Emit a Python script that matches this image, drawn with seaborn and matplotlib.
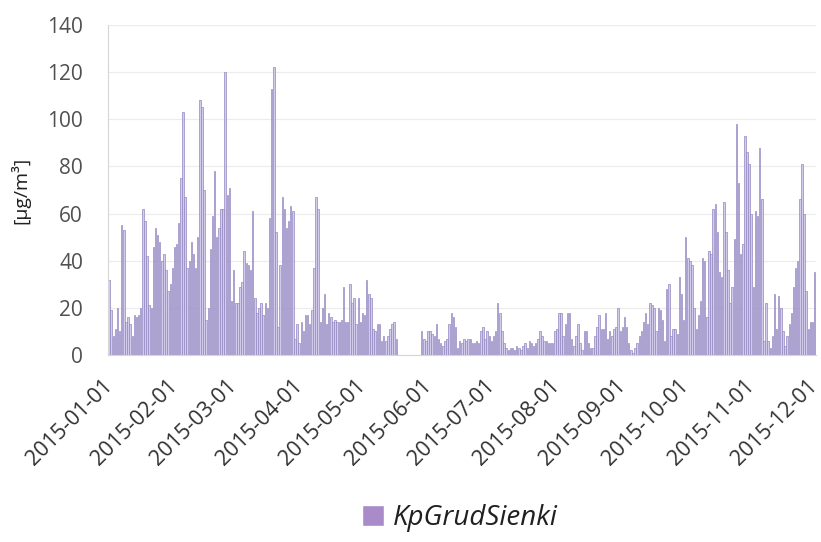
import matplotlib
matplotlib.use("Agg")
import matplotlib.pyplot as plt
import numpy as np
import pandas as pd
import seaborn as sns
from matplotlib.patches import Patch

nan = np.nan

# daily PM values, one list per month
jan = [32, 19, 8, 11, 20, 10, 55, 53, 14, 16, 13, 8, 17, 16, 17, 20, 62, 57, 42, 21,
       20, 46, 54, 51, 48, 40, 43, 36, 27, 30, 37]
feb = [46, 47, 56, 75, 103, 67, 37, 40, 48, 43, 37, 50, 108, 105, 70, 15, 20, 45, 59, 78,
       50, 54, 62, 62, 120, 68, 71, 23]
mar = [36, 22, 22, 29, 31, 44, 39, 38, 36, 61, 24, 18, 20, 22, 17, 22, 20, 58, 113, 122,
       52, 12, 38, 67, 62, 54, 57, 63, 61, 7, 13]
apr = [5, 14, 10, 17, 17, 13, 19, 37, 67, 62, 14, 20, 26, 13, 18, 16, 14, 15, 14, 14,
       15, 29, 14, 14, 30, 22, 24, 13, 24, 14]
may = [18, 17, 32, 26, 24, 11, 10, 13, 13, 6, 8, 6, 8, 11, 13, 14, 7,
       nan, nan, nan, nan, nan, nan, nan, nan, nan, nan, nan, 10, 7, 6]
jun = [10, 10, 9, 8, 13, 7, 5, 4, 6, 7, 13, 18, 16, 12, 3, 6, 5, 7, 6, 7,
       7, 5, 5, 6, 5, 10, 12, 7, 10, 8]
jul = [6, 8, 10, 22, 18, 10, 5, 3, 2, 3, 3, 2, 4, 3, 2, 4, 5, 3, 6, 5,
       4, 5, 7, 10, 8, 6, 6, 5, 5, 5, 10]
aug = [11, 18, 18, 8, 13, 18, 18, 7, 4, 8, 13, 5, 2, 10, 10, 5, 3, 3, 8, 12,
       17, 11, 11, 18, 7, 10, 8, 11, 12, 20, 10]
sep = [12, 16, 12, 5, 2, 1, 3, 5, 8, 10, 14, 18, 13, 22, 21, 20, 10, 20, 19, 15,
       6, 28, 30, 8, 11, 11, 9, 33, 26, 15]
oct_ = [50, 41, 40, 38, 20, 11, 17, 23, 41, 40, 16, 44, 43, 62, 64, 52, 35, 33, 65, 52,
        36, 22, 29, 49, 98, 73, 43, 47, 93, 86, 81]
nov = [60, 29, 61, 59, 88, 66, 6, 22, 6, 3, 8, 26, 11, 25, 20, 10, 4, 8, 13, 18,
       29, 37, 40, 66, 81, 60, 27, 11, 14, 14]
dec = [35]

month_labels = ["2015-01-01", "2015-02-01", "2015-03-01", "2015-04-01", "2015-05-01",
                "2015-06-01", "2015-07-01", "2015-08-01", "2015-09-01", "2015-10-01",
                "2015-11-01", "2015-12-01"]
series_name = "KpGrudSienki"
y_ticks = [0, 20, 40, 60, 80, 100, 120, 140]

values = jan + feb + mar + apr + may + jun + jul + aug + sep + oct_ + nov + dec
dates = pd.date_range("2015-01-01", "2015-12-01", freq="D").strftime("%Y-%m-%d")
df = pd.DataFrame({"date": dates, "value": values})

sns.set_theme(style="white")
plt.rcParams["font.family"] = ["Open Sans", "DejaVu Sans"]

text_color = "#505050"
fig = plt.figure(figsize=(8.21, 5.42), dpi=100)
ax = fig.add_axes([0.1315, 0.345, 0.862, 0.609])

sns.barplot(
    data=df,
    x="date",
    y="value",
    color="#d3cbec",
    saturation=1,
    width=0.7,
    edgecolor="#9387c0",
    linewidth=0.5,
    ax=ax,
)

ax.set_ylim(0, 140)
ax.set_yticks(y_ticks)
ax.set_yticklabels([str(t) for t in y_ticks], fontsize=15, color=text_color)
tick_pos = [list(dates).index(m) for m in month_labels]
ax.set_xticks(tick_pos)
ax.set_xticklabels(month_labels, rotation=45, ha="right", va="center",
                   rotation_mode="anchor", fontsize=15.5, color="#303030")
ax.tick_params(axis="y", length=0, pad=18)
ax.tick_params(axis="x", length=0, pad=20)

ax.yaxis.grid(True, color="#ececec", linewidth=0.8)
ax.set_axisbelow(True)
for side in ["top", "right"]:
    ax.spines[side].set_visible(False)
for side in ["left", "bottom"]:
    ax.spines[side].set_color("#d6d6d6")
    ax.spines[side].set_linewidth(0.8)

ax.set_xlabel("")
ax.set_ylabel("[µg/m³]", fontsize=14, color="#202020", labelpad=12)

ax.legend(
    handles=[Patch(facecolor="#a98bc9", label=series_name)],
    loc="lower center",
    bbox_to_anchor=(0.56, -0.028),
    bbox_transform=fig.transFigure,
    frameon=False,
    handlelength=0.8,
    handleheight=0.8,
    handletextpad=0.3,
    prop={"size": 20, "style": "italic"},
    labelcolor="#202020",
)

fig.savefig("out.png", dpi=100)
plt.close(fig)
